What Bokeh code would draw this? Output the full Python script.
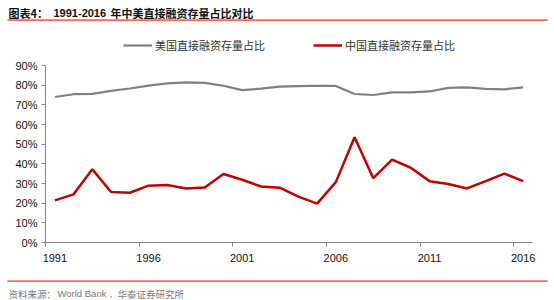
from bokeh.plotting import figure
from bokeh.models import Range1d, FixedTicker, PrintfTickFormatter, Legend, LegendItem, Plot
from bokeh.layouts import column
from bokeh.embed import file_html
from bokeh.resources import INLINE
from bokeh.core.properties import value

# ---- data ----
years = list(range(1991, 2017))
us_share = [74.0, 75.4, 75.6, 77.1, 78.3, 79.8, 80.9, 81.4, 81.2, 79.7, 77.5, 78.2, 79.3,
            79.5, 79.7, 79.6, 75.5, 75.0, 76.3, 76.3, 76.8, 78.6, 78.9, 78.1, 77.9, 78.9]
cn_share = [21.4, 24.5, 37.2, 25.7, 25.3, 28.9, 29.2, 27.5, 28.0, 34.8, 31.9, 28.5, 27.9,
            23.3, 19.8, 30.7, 53.5, 32.7, 42.1, 38.0, 31.2, 29.7, 27.5, 31.2, 35.0, 31.2]
x_tick_years = [1991, 1996, 2001, 2006, 2011, 2016]
y_ticks = [0, 10, 20, 30, 40, 50, 60, 70, 80, 90]
title_parts = ["图表4：", "1991-2016", "年中美直接融资存量占比对比"]
source_parts = ["资料来源：", "World Bank，", "华泰证券研究所"]
us_label = "美国直接融资存量占比"
cn_label = "中国直接融资存量占比"

W = 554
LATIN = "Liberation Sans"
CJK = "Noto Sans CJK SC"
AXIS_GRAY = "#868686"

NOALIGN = {"frame_align": False} if "frame_align" in Plot.properties() else {}

# ---- header ----
top = figure(width=W, height=25, x_range=Range1d(0, W), y_range=Range1d(25, 0),
             x_axis_type=None, y_axis_type=None, output_backend="svg",
             toolbar_location=None, min_border_left=0, min_border_right=0,
             min_border_top=0, min_border_bottom=0, **NOALIGN)
top.outline_line_color = None
for txt, xpos, fnt in zip(title_parts, [8, 53, 110], [CJK, LATIN, CJK]):
    top.text(x=[xpos], y=[12], text=[txt], text_font=value(fnt), text_font_style="bold",
             text_font_size="11px", text_baseline="middle", text_color="#111111")
top.segment(x0=[7], y0=[19.7], x1=[547], y1=[19.7], line_color="#F26B5B", line_width=1.8)

# ---- main chart ----
p = figure(width=W, height=247, x_range=Range1d(1990.5, 2016.5), y_range=Range1d(0, 110.34),
           output_backend="svg", toolbar_location=None,
           min_border_left=45, min_border_right=22, min_border_top=0, min_border_bottom=30,
           **NOALIGN)
p.outline_line_color = None
p.xgrid.visible = False
p.ygrid.visible = False

r_us = p.line(years, us_share, line_color="#808080", line_width=2.2)
r_cn = p.line(years, cn_share, line_color="#C00000", line_width=2.5)

ya = p.yaxis[0]
ya.ticker = FixedTicker(ticks=y_ticks)
ya.formatter = PrintfTickFormatter(format="%d%%")
ya.bounds = (0, 90)
ya.axis_line_color = AXIS_GRAY
ya.major_tick_line_color = AXIS_GRAY
ya.major_tick_out = 4
ya.major_tick_in = 0
ya.minor_tick_out = 0
ya.minor_tick_in = 0
ya.major_label_standoff = 4
ya.major_label_text_font = LATIN
ya.major_label_text_font_size = "11px"
ya.major_label_text_color = "#111111"

xa = p.xaxis[0]
xa.ticker = FixedTicker(ticks=x_tick_years, minor_ticks=[y - 0.5 for y in x_tick_years])
xa.axis_line_color = AXIS_GRAY
xa.major_tick_out = 0
xa.major_tick_in = 0
xa.minor_tick_out = 4
xa.minor_tick_in = 0
xa.minor_tick_line_color = AXIS_GRAY
xa.major_label_standoff = 7
xa.major_label_text_font = LATIN
xa.major_label_text_font_size = "11px"
xa.major_label_text_color = "#111111"

legend = Legend(items=[LegendItem(label=us_label, renderers=[r_us]),
                       LegendItem(label=cn_label, renderers=[r_cn])],
                orientation="horizontal", location=(78, 189),
                glyph_width=29, glyph_height=16, label_height=16, label_standoff=3,
                spacing=48, padding=0, margin=0, border_line_color=None,
                background_fill_alpha=0, label_text_font=CJK,
                label_text_font_size="11px", label_text_color="#333333")
p.add_layout(legend)

# ---- footer ----
bot = figure(width=W, height=28, x_range=Range1d(0, W), y_range=Range1d(28, 0),
             x_axis_type=None, y_axis_type=None, output_backend="svg",
             toolbar_location=None, min_border_left=0, min_border_right=0,
             min_border_top=0, min_border_bottom=0, **NOALIGN)
bot.outline_line_color = None
bot.segment(x0=[7], y0=[8.7], x1=[547], y1=[8.7], line_color="#FF2B1C", line_width=1.3)
for txt, xpos, fnt in zip(source_parts, [8, 57, 117], [CJK, LATIN, CJK]):
    bot.text(x=[xpos], y=[21], text=[txt], text_font=value(fnt), text_font_size="9.5px",
             text_baseline="middle", text_color="#7a7a7a")

layout = column(top, p, bot, spacing=0)
open("out.html", "w").write(file_html(layout, INLINE))
